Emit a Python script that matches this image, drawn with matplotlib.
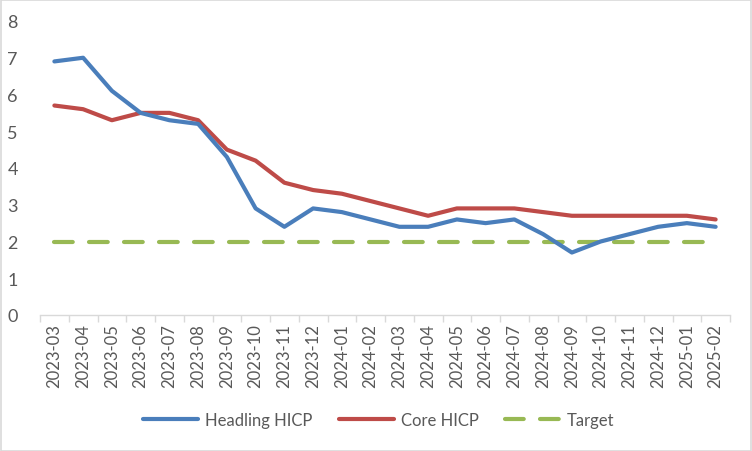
import matplotlib
matplotlib.use("Agg")
import matplotlib.pyplot as plt
from matplotlib.patches import Rectangle

months = ["2023-03", "2023-04", "2023-05", "2023-06", "2023-07", "2023-08",
          "2023-09", "2023-10", "2023-11", "2023-12", "2024-01", "2024-02",
          "2024-03", "2024-04", "2024-05", "2024-06", "2024-07", "2024-08",
          "2024-09", "2024-10", "2024-11", "2024-12", "2025-01", "2025-02"]
headline = [6.9, 7.0, 6.1, 5.5, 5.3, 5.2, 4.3, 2.9, 2.4, 2.9, 2.8, 2.6,
            2.4, 2.4, 2.6, 2.5, 2.6, 2.2, 1.7, 2.0, 2.2, 2.4, 2.5, 2.4]
core = [5.7, 5.6, 5.3, 5.5, 5.5, 5.3, 4.5, 4.2, 3.6, 3.4, 3.3, 3.1,
        2.9, 2.7, 2.9, 2.9, 2.9, 2.8, 2.7, 2.7, 2.7, 2.7, 2.7, 2.6]
target = [2.0] * len(months)
yticks = [0, 1, 2, 3, 4, 5, 6, 7, 8]

plt.rcParams['font.family'] = ['Lato', 'DejaVu Sans']

W, H = 752, 452
fig = plt.figure(figsize=(W / 100, H / 100), dpi=100)
fig.patches.append(Rectangle((0.5 / W, 0.5 / H), 1 - 1.5 / W, 1 - 1.5 / H,
                             transform=fig.transFigure, fill=False,
                             edgecolor='#D9D9D9', linewidth=1.2))

ax = fig.add_axes([40 / W, 1 - 316 / H, 690 / W, 294 / H])
x = list(range(len(months)))
lw = 3.0
ax.plot(x, headline, color='#4A7EBB', linewidth=lw, solid_capstyle='round',
        solid_joinstyle='round', label='Headling HICP', zorder=3)
ax.plot(x, core, color='#BE4B48', linewidth=lw, solid_capstyle='round',
        solid_joinstyle='round', label='Core HICP', zorder=2)
ax.plot(x, target, color='#98B954', linewidth=lw, dashes=(4.5, 3.9),
        dash_capstyle='round', label='Target', zorder=1)

ax.set_xlim(-0.5, len(months) - 0.5)
ax.set_ylim(0, 8)
ax.set_yticks(yticks)
ax.set_yticklabels([str(v) for v in yticks])
ax.set_xticks(x)
ax.set_xticklabels(months, rotation=90)
ax.set_xticks([i - 0.5 for i in range(len(months) + 1)], minor=True)
ax.tick_params(axis='x', which='major', length=0, pad=6, labelsize=12,
               labelcolor='#595959')
ax.tick_params(axis='x', which='minor', length=5, color='#D9D9D9', width=1)
ax.tick_params(axis='y', length=0, pad=16, labelsize=13, labelcolor='#595959')
for s in ['left', 'right', 'top']:
    ax.spines[s].set_visible(False)
ax.spines['bottom'].set_color('#D9D9D9')
ax.spines['bottom'].set_linewidth(1)

leg = fig.legend(loc='center', bbox_to_anchor=(379 / W, 1 - 421 / H), ncol=3,
                 frameon=False, fontsize=12, handlelength=3.3, columnspacing=1.6,
                 handletextpad=0.4)
for t in leg.get_texts():
    t.set_color('#595959')

fig.savefig('out.png', dpi=100)
